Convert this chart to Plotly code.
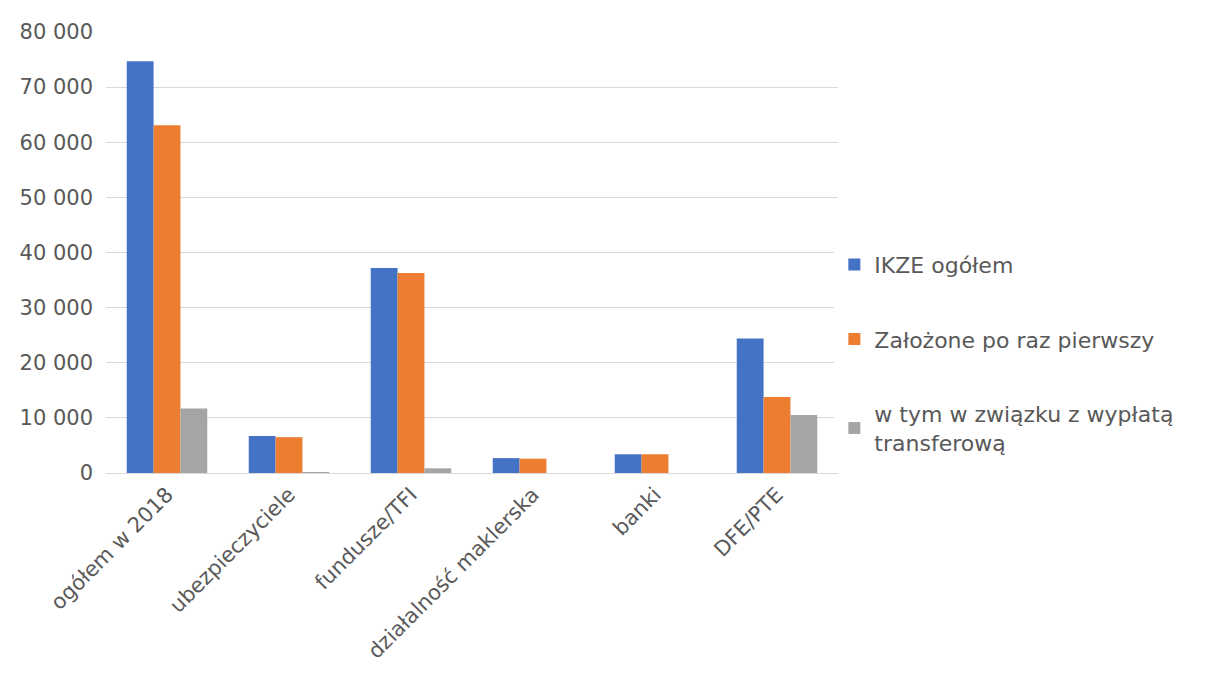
import plotly.graph_objects as go

categories = ["ogółem w 2018", "ubezpieczyciele", "fundusze/TFI",
              "działalność maklerska", "banki", "DFE/PTE"]
ikze_total = [74700, 6700, 37200, 2700, 3400, 24400]
first_time = [63100, 6500, 36300, 2600, 3400, 13800]
transfer = [11700, 100, 850, 0, 0, 10500]

series = [
    ("IKZE ogółem", ikze_total, "#4472C4"),
    ("Założone po raz pierwszy", first_time, "#ED7D31"),
    ("w tym w związku z wypłatą<br>transferową", transfer, "#A5A5A5"),
]

font_family = "DejaVu Sans, sans-serif"

fig = go.Figure()
for i, (name, vals, color) in enumerate(series):
    fig.add_trace(go.Bar(
        x=categories,
        y=vals,
        name=name,
        marker=dict(color=color, line=dict(width=0)),
        legendgroup=f"g{i}",
    ))

# page body has an 8px margin, so the figure is shrunk by that much
fig.update_layout(
    barmode="group",
    bargap=0.34,
    bargroupgap=0,
    separators=", ",
    plot_bgcolor="white",
    paper_bgcolor="white",
    width=1205,
    height=671,
    margin=dict(l=92, r=375, t=20, b=206),
    font=dict(family=font_family, size=21, color="#595959"),
    legend=dict(
        x=0.995, y=0.52, xanchor="left", yanchor="top",
        tracegroupgap=43,
        itemwidth=30,
        font=dict(size=22, color="#595959"),
    ),
    yaxis=dict(
        range=[0, 80000],
        dtick=10000,
        tickformat=",d",
        showgrid=True,
        gridcolor="#D9D9D9",
        gridwidth=1,
        zeroline=False,
        showline=False,
        ticks="",
        ticklabelstandoff=12,
    ),
    xaxis=dict(
        tickangle=-45,
        showline=True,
        linecolor="#D9D9D9",
        linewidth=1,
        ticks="",
    ),
)

fig.write_html("out.html")
